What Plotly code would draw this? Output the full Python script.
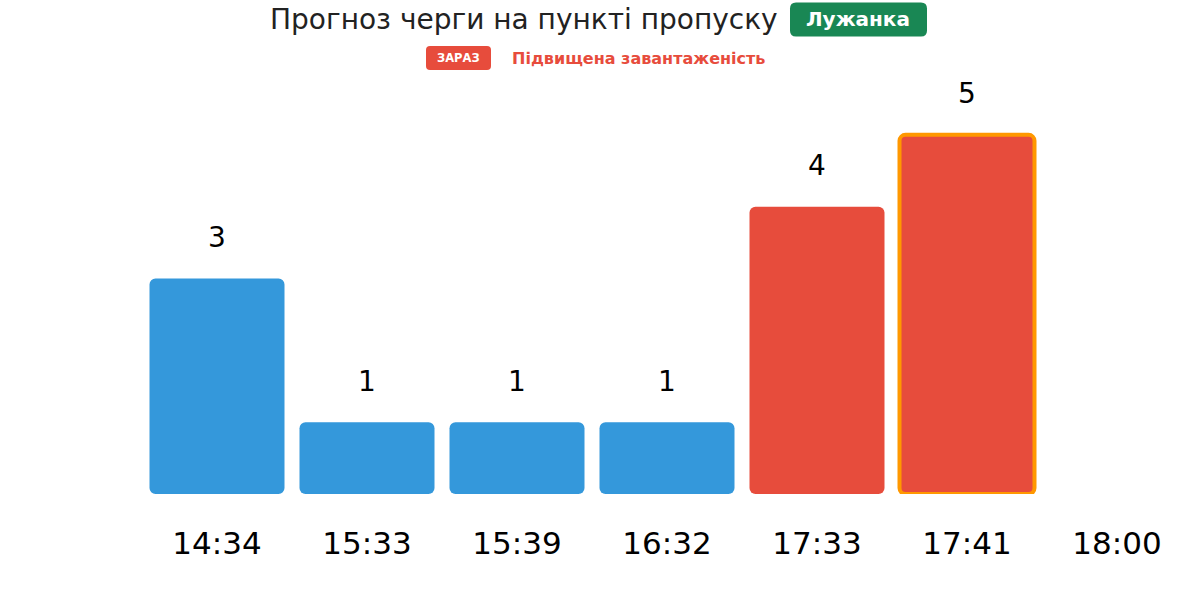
import plotly.graph_objects as go

# data
times = ["14:34", "15:33", "15:39", "16:32", "17:33", "17:41", "18:00"]
queue = [3, 1, 1, 1, 4, 5, None]
now_slot = "17:41"
title_text = "Прогноз черги на пункті пропуску"
checkpoint = "Лужанка"
now_label = "ЗАРАЗ"
status_text = "Підвищена завантаженість"

BLUE = "#3498db"
RED = "#e74c3c"
ORANGE = "#ff9800"
GREEN = "#198754"
HIGH_LEVEL = 4

W, H = 1200, 616
ML, MR, MT, MB = 142, 8, 63, 122
Y_MAX = 6


def px_x(px):
    return (px - ML) / (W - ML - MR)


def px_y(py):
    return (H - MB - py) / (H - MT - MB)


def rounded_rect(w, h, r):
    x0, x1, y0, y1 = -w / 2, w / 2, -h / 2, h / 2
    return (f"M {x0 + r},{y0} L {x1 - r},{y0} Q {x1},{y0} {x1},{y0 + r} "
            f"L {x1},{y1 - r} Q {x1},{y1} {x1 - r},{y1} L {x0 + r},{y1} "
            f"Q {x0},{y1} {x0},{y1 - r} L {x0},{y0 + r} Q {x0},{y0} {x0 + r},{y0} Z")


colors = [RED if v is not None and v >= HIGH_LEVEL else BLUE for v in queue]
line_w = [4 if t == now_slot else 0 for t in times]

# explicit base makes plotly round both ends of each bar
fig = go.Figure(go.Bar(
    x=times, y=queue, base=[0] * len(times), width=0.9,
    marker=dict(color=colors, cornerradius=6,
                line=dict(width=line_w, color=ORANGE)),
    hoverinfo="skip", showlegend=False,
))

annotations = []
for t, v in zip(times, queue):
    if v is None:
        continue
    annotations.append(dict(x=t, y=v, text=str(v), showarrow=False, yshift=41,
                            yanchor="middle", font=dict(size=28, color="#000")))

annotations += [
    dict(x=px_x(780), y=px_y(19), xref="paper", yref="paper", text=title_text,
         showarrow=False, xanchor="right", yanchor="middle",
         font=dict(size=28, color="#222")),
    dict(x=px_x(858), y=px_y(19), xref="paper", yref="paper", text=f"<b>{checkpoint}</b>",
         showarrow=False, xanchor="center", yanchor="middle",
         font=dict(size=20, color="white")),
    dict(x=px_x(458.5), y=px_y(58), xref="paper", yref="paper", text=f"<b>{now_label}</b>",
         showarrow=False, xanchor="center", yanchor="middle",
         font=dict(size=11.5, color="white")),
    dict(x=px_x(510), y=px_y(59), xref="paper", yref="paper", text=f"<b>{status_text}</b>",
         showarrow=False, xanchor="left", yanchor="middle",
         font=dict(size=16, color=RED)),
]

shapes = [
    dict(type="path", xref="paper", yref="paper", xsizemode="pixel", ysizemode="pixel",
         xanchor=px_x(858.5), yanchor=px_y(19.5), path=rounded_rect(137, 34, 6),
         fillcolor=GREEN, line=dict(width=0), layer="below"),
    dict(type="path", xref="paper", yref="paper", xsizemode="pixel", ysizemode="pixel",
         xanchor=px_x(458.5), yanchor=px_y(58), path=rounded_rect(65, 24, 4),
         fillcolor=RED, line=dict(width=0), layer="below"),
]

fig.update_layout(
    width=W, height=H,
    margin=dict(l=ML, r=MR, t=MT, b=MB),
    plot_bgcolor="white", paper_bgcolor="white",
    font=dict(family="DejaVu Sans"),
    annotations=annotations,
    shapes=shapes,
    xaxis=dict(type="category", categoryorder="array", categoryarray=times,
               range=[-0.5, len(times) - 0.5], showgrid=False, zeroline=False,
               showline=False, ticks="", ticklabelstandoff=28,
               tickfont=dict(size=31, color="#000")),
    yaxis=dict(range=[0, Y_MAX], visible=False, fixedrange=True),
)

fig.write_html("out.html", config={"displayModeBar": False},
               post_script="document.body.style.margin = '0';")
